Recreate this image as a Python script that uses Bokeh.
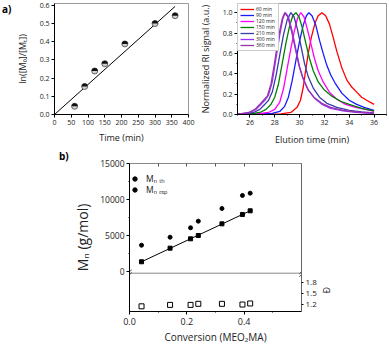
import numpy as np
from bokeh.plotting import figure
from bokeh.models import (Range1d, LinearAxis, FixedTicker, NumeralTickFormatter, Legend,
                          LegendItem, SingleIntervalTicker, Div)
from bokeh.layouts import column, row
from bokeh.embed import file_html
from bokeh.resources import INLINE

FONT = "Open Sans"

# ---------------- Panel a (left): kinetics ----------------
time_min = [60, 90, 120, 150, 210, 300, 360]
ln_m0_mt = [0.045, 0.154, 0.239, 0.279, 0.388, 0.50, 0.543]
fit_time = [0, 360]
fit_ln = [0.0, 0.594]

# ---------------- Panel a (right): SEC traces ----------------
gpc_labels = ["60 min", "90 min", "120 min", "150 min", "210 min", "300 min", "360 min"]
gpc_colors = ["#ff0000", "#1a1aff", "#ff00ff", "#008000", "#3a3aa8", "#9b30ff", "#9933aa"]

t60 = [25.0, 28.5, 29.3, 29.8, 30.07, 30.3, 30.47, 30.7, 30.95, 31.25, 31.5, 31.8, 32.1, 32.4, 32.7, 33.0, 33.4, 33.8, 34.2, 34.6, 35.0, 35.4, 36.0]
y60 = [0.003, 0.006, 0.02, 0.07, 0.14, 0.27, 0.42, 0.6, 0.76, 0.9, 0.97, 1.0, 0.97, 0.89, 0.76, 0.62, 0.46, 0.34, 0.27, 0.22, 0.17, 0.14, 0.10]
t90 = [25.0, 27.0, 27.8, 28.4, 28.8, 29.1, 29.4, 29.7, 30.0, 30.3, 30.55, 30.75, 31.0, 31.3, 31.6, 31.9, 32.2, 32.5, 32.9, 33.4, 34.0, 34.6, 35.2, 36.0]
y90 = [0.003, 0.005, 0.01, 0.03, 0.08, 0.17, 0.33, 0.53, 0.72, 0.88, 0.97, 1.0, 0.97, 0.88, 0.73, 0.6, 0.48, 0.39, 0.3, 0.21, 0.14, 0.1, 0.07, 0.04]
t120 = [25.0, 26.5, 27.5, 28.0, 28.4, 28.7, 29.0, 29.3, 29.6, 29.85, 30.1, 30.35, 30.6, 30.9, 31.2, 31.5, 31.9, 32.4, 33.0, 33.7, 34.5, 35.3, 36.0]
y120 = [0.003, 0.005, 0.02, 0.05, 0.12, 0.25, 0.45, 0.65, 0.83, 0.95, 1.0, 0.96, 0.85, 0.7, 0.55, 0.43, 0.32, 0.22, 0.15, 0.1, 0.07, 0.05, 0.03]
t150 = [25.0, 26.0, 26.8, 27.3, 27.7, 28.0, 28.3, 28.6, 28.9, 29.2, 29.45, 29.7, 29.95, 30.2, 30.5, 30.8, 31.1, 31.5, 32.0, 32.6, 33.3, 34.0, 35.0, 36.0]
y150 = [0.003, 0.005, 0.02, 0.05, 0.1, 0.17, 0.3, 0.5, 0.7, 0.87, 0.97, 1.0, 0.96, 0.86, 0.7, 0.55, 0.43, 0.32, 0.24, 0.18, 0.13, 0.1, 0.06, 0.035]
t210 = [25.0, 25.5, 26.3, 26.8, 27.2, 27.5, 27.8, 28.1, 28.4, 28.7, 29.0, 29.3, 29.55, 29.8, 30.1, 30.4, 30.7, 31.1, 31.6, 32.2, 33.0, 34.0, 35.0, 36.0]
y210 = [0.003, 0.005, 0.02, 0.05, 0.1, 0.14, 0.22, 0.38, 0.58, 0.78, 0.93, 1.0, 0.96, 0.85, 0.68, 0.5, 0.37, 0.26, 0.17, 0.11, 0.07, 0.04, 0.025, 0.015]
t300 = [25.0, 25.3, 26.0, 26.5, 26.9, 27.2, 27.5, 27.8, 28.1, 28.4, 28.65, 28.85, 29.1, 29.4, 29.7, 30.0, 30.3, 30.7, 31.2, 31.8, 32.5, 33.5, 34.5, 36.0]
y300 = [0.003, 0.005, 0.02, 0.05, 0.1, 0.14, 0.19, 0.32, 0.55, 0.78, 0.94, 1.0, 0.96, 0.82, 0.64, 0.47, 0.35, 0.24, 0.16, 0.1, 0.06, 0.035, 0.02, 0.01]
t360 = [25.0, 25.2, 25.9, 26.4, 26.8, 27.1, 27.4, 27.7, 28.0, 28.3, 28.6, 28.8, 29.05, 29.35, 29.65, 29.95, 30.25, 30.65, 31.15, 31.8, 32.5, 33.5, 34.5, 36.0]
y360 = [0.003, 0.005, 0.02, 0.05, 0.1, 0.14, 0.18, 0.3, 0.52, 0.76, 0.94, 1.0, 0.96, 0.82, 0.65, 0.48, 0.36, 0.25, 0.17, 0.11, 0.07, 0.04, 0.025, 0.012]
gpc_t = [t60, t90, t120, t150, t210, t300, t360]
gpc_y = [y60, y90, y120, y150, y210, y300, y360]

# ---------------- Panel b: Mn and dispersity vs conversion ----------------
conversion = [0.042, 0.1415, 0.213, 0.240, 0.3225, 0.394, 0.421]
mn_th = [1350, 3240, 4540, 5000, 6620, 7920, 8430]
mn_exp = [3650, 4760, 6070, 6990, 8750, 10560, 10880]
dispersity = [1.14, 1.18, 1.18, 1.21, 1.21, 1.19, 1.22]
mn_ticks = [0, 5000, 10000, 15000]
disp_ticks = [1.2, 1.5, 1.8]


def style_axis(ax, tick_size, label_size):
    ax.axis_line_color = "black"
    ax.major_tick_line_color = "black"
    ax.minor_tick_line_color = "black"
    ax.major_tick_out = 3
    ax.major_tick_in = 0
    ax.minor_tick_out = 1
    ax.minor_tick_in = 0
    ax.major_label_text_font = FONT
    ax.major_label_text_font_size = tick_size
    ax.major_label_text_color = "#222222"
    ax.major_label_standoff = 2
    ax.axis_label_text_font = FONT
    ax.axis_label_text_font_style = "normal"
    ax.axis_label_text_font_size = label_size
    ax.axis_label_text_color = "#222222"


def base_fig(w, h, xr, yr, bl, br, bt, bb, **kw):
    p = figure(width=w, height=h, x_range=xr, y_range=yr, output_backend="svg",
               toolbar_location=None, min_border_left=bl, min_border_right=br,
               min_border_top=bt, min_border_bottom=bb, **kw)
    p.grid.visible = False
    p.outline_line_color = "#999999"
    p.background_fill_color = "white"
    p.border_fill_color = "white"
    return p


def panel_tag(txt, w, h, left, top):
    return Div(text=f'<div style="padding-left:{left}px;padding-top:{top}px;'
                    f'font-family:\'Open Sans\';font-weight:bold;font-size:10px;'
                    f'line-height:10px;color:black">{txt}</div>',
               width=w, height=h, margin=0)


# ---- Figure A: ln([M0]/[Mt]) vs time ----
pa = base_fig(183, 148, Range1d(0, 400), Range1d(0, 0.61), 30, 7, 3, 27)
pa.xaxis.ticker = SingleIntervalTicker(interval=50, num_minor_ticks=0)
pa.yaxis.ticker = SingleIntervalTicker(interval=0.1, num_minor_ticks=0)
pa.yaxis.formatter = NumeralTickFormatter(format="0.0")
for ax in pa.xaxis + pa.yaxis:
    style_axis(ax, "7px", "9px")
pa.xaxis.axis_label = "Time (min)"
pa.yaxis.axis_label = "ln([M₀]/[Mₜ])"
pa.xaxis.axis_label_standoff = 3
pa.yaxis.axis_label_standoff = 8
pa.line(fit_time, fit_ln, line_color="black", line_width=1)
pa.scatter(time_min, ln_m0_mt, size=6, fill_color="#d0d0d0", line_color="#444444", line_width=0.8)
pa.wedge(time_min, ln_m0_mt, radius=3, radius_units="screen", start_angle=0, end_angle=np.pi,
         fill_color="#111111", line_color=None)

# ---- Figure B: SEC traces ----
pb = base_fig(194, 148, Range1d(25, 37), Range1d(0, 1.09), 41, 3, 3, 27)
pb.xaxis.ticker = SingleIntervalTicker(interval=2, num_minor_ticks=2)
pb.yaxis.ticker = SingleIntervalTicker(interval=0.2, num_minor_ticks=2)
pb.yaxis.formatter = NumeralTickFormatter(format="0.0")
for ax in pb.xaxis + pb.yaxis:
    style_axis(ax, "7px", "9px")
pb.xaxis.axis_label = "Elution time (min)"
pb.yaxis.axis_label = "Normalized RI signal (a.u.)"
pb.xaxis.axis_label_standoff = 5
pb.yaxis.axis_label_standoff = 8
items = []
for lab, col, tt, yy in zip(gpc_labels, gpc_colors, gpc_t, gpc_y):
    r = pb.line(tt, yy, line_color=col, line_width=1.3)
    items.append(LegendItem(label=lab, renderers=[r]))
leg = Legend(items=items, location="top_left", margin=0, padding=2, spacing=0,
             glyph_width=14, glyph_height=6, label_height=6, label_standoff=2,
             label_text_font=FONT, label_text_font_size="5px", label_text_color="#222222",
             border_line_color="#999999", background_fill_alpha=1)
pb.add_layout(leg)

# ---- Figure C: Mn (upper) and dispersity (lower) vs conversion ----
pc = base_fig(319, 200, Range1d(0, 0.6), Range1d(-5556, 15000), 50, 88, 15, 37)
pc.extra_y_ranges = {"disp": Range1d(0.995, 5.144)}
# left axis: Mn
pc.yaxis.ticker = FixedTicker(ticks=mn_ticks, minor_ticks=[2500, 7500, 12500])
style_axis(pc.yaxis[0], "8.5px", "14px")
pc.yaxis.axis_label = "Mₙ (g/mol)"
pc.yaxis.axis_label_standoff = 5
# bottom axis: conversion
pc.xaxis.ticker = SingleIntervalTicker(interval=0.2, num_minor_ticks=2)
pc.xaxis.formatter = NumeralTickFormatter(format="0.0")
style_axis(pc.xaxis[0], "9px", "10px")
pc.xaxis.major_label_standoff = 3
pc.xaxis.axis_label = "Conversion (MEO₂MA)"
pc.xaxis.axis_label_standoff = 2
# top axis: inward ticks only
top = LinearAxis(ticker=FixedTicker(ticks=[0.1, 0.2, 0.3, 0.4, 0.5], minor_ticks=[]),
                 major_label_overrides={0.1: "", 0.2: "", 0.3: "", 0.4: "", 0.5: ""},
                 axis_line_color="#888888", major_tick_line_color="#555555",
                 major_tick_in=3, major_tick_out=0, major_label_text_font_size="1px")
pc.add_layout(top, "above")
# right axis: dispersity ticks
right = LinearAxis(y_range_name="disp", ticker=FixedTicker(ticks=disp_ticks, minor_ticks=[]))
style_axis(right, "8px", "9px")
right.axis_line_color = "#666666"
right.major_tick_out = 2
pc.add_layout(right, "right")
# dispersity symbol placed beside the lower panel (as a label on a bare axis)
sym = LinearAxis(y_range_name="disp", ticker=FixedTicker(ticks=[1.5], minor_ticks=[]),
                 major_label_overrides={1.5: "Đ"}, axis_line_color=None,
                 major_tick_line_color=None, major_label_orientation=np.pi / 2,
                 major_label_standoff=1, major_label_text_font=FONT,
                 major_label_text_font_size="9px", major_label_text_color="#222222")
pc.add_layout(sym, "right")

# separator between the two panels and break marks
sep_y = 2.069
pc.line([pc.x_range.start, pc.x_range.end], [sep_y, sep_y], y_range_name="disp",
        line_color="#888888", line_width=1)
bx = [pc.x_range.start, pc.x_range.end]
pc.segment(x0=[b - 0.008 for b in bx] * 2, y0=[sep_y - 0.1] * 2 + [sep_y - 0.02] * 2,
           x1=[b + 0.008 for b in bx] * 2, y1=[sep_y + 0.02] * 2 + [sep_y + 0.1] * 2,
           y_range_name="disp", line_color="#333333", line_width=0.8)

r_th = pc.scatter(conversion, mn_th, marker="square", size=4, color="black")
pc.line([conversion[0], conversion[-1]], [mn_th[0], mn_th[-1]], line_color="black", line_width=1)
r_exp = pc.scatter(conversion, mn_exp, marker="circle", size=4, color="black")
pc.scatter(conversion, dispersity, y_range_name="disp", marker="square", size=5,
           fill_color="white", line_color="black", line_width=1)
leg_c = Legend(items=[LegendItem(label="Mₙ ₜₕ", renderers=[r_exp]),
                      LegendItem(label="Mₙ ₑₓₚ", renderers=[r_exp])],
               location="top_left", margin=0, padding=0, spacing=0, glyph_width=11,
               glyph_height=11, label_height=11, label_standoff=6, label_text_font=FONT,
               label_text_font_size="8.5px", label_text_color="#111111",
               title="\u00a0", title_text_font_size="7px", title_standoff=3,
               border_line_color=None, background_fill_alpha=0)
try:
    leg_c.spacing = -2
except Exception:
    pass
pc.add_layout(leg_c)

tag_a = panel_tag("a)", 12, 148, 2, 4)
tag_b = panel_tag("b)", 70, 200, 59, 3)

layout = column(row(tag_a, pa, pb), row(tag_b, pc))
open("out.html", "w").write(file_html(layout, INLINE))
